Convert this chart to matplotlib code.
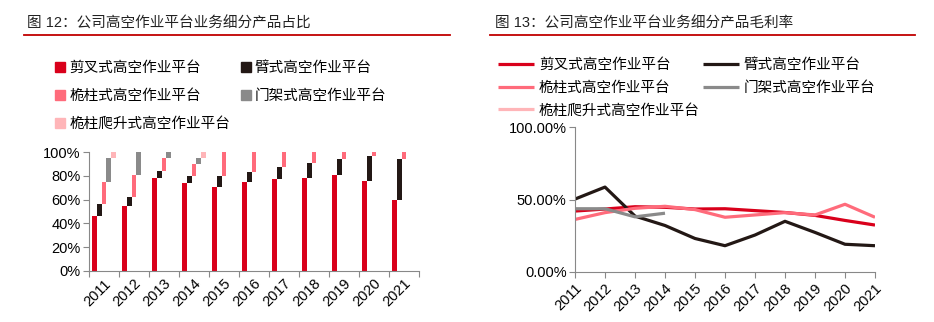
import matplotlib
matplotlib.use("Agg")
import matplotlib.pyplot as plt
import numpy as np
from matplotlib.lines import Line2D

plt.rcParams['font.family'] = ['Liberation Sans', 'Noto Sans CJK SC', 'DejaVu Sans']

years = ['2011', '2012', '2013', '2014', '2015', '2016', '2017', '2018', '2019', '2020', '2021']
series_names = ['剪叉式高空作业平台', '臂式高空作业平台', '桅柱式高空作业平台',
                '门架式高空作业平台', '桅柱爬升式高空作业平台']
colors = ['#D9001B', '#231815', '#FF6B7B', '#8A8A8A', '#FFB5B8']

# 占比 (%)
share_scissor = [46, 54.5, 78.5, 74, 70.5, 75, 77.5, 78, 81, 76, 60]
share_boom = [10, 8, 5.5, 6, 9.5, 8.5, 9.5, 13, 13.5, 20.5, 34.5]
share_mast = [18.5, 18, 11, 10, 20, 16.5, 13, 9, 5.5, 3.5, 5.5]
share_gantry = [20.5, 19.5, 5, 5, 0, 0, 0, 0, 0, 0, 0]
share_climb = [5, 0, 0, 5, 0, 0, 0, 0, 0, 0, 0]

# 毛利率 (%)
margin_scissor = [42, 43.4, 45, 44.6, 43.4, 43.6, 42.3, 41, 39, 35.5, 32.3]
margin_boom = [50.3, 58.6, 38.5, 32, 23, 18, 25.4, 34.9, 27.2, 19, 18]
margin_mast = [36.2, 40.9, 43.9, 45.3, 43, 37.7, 39.3, 40.9, 39.3, 46.7, 37.7]
margin_gantry = [43.6, 43.6, 38, 40.5]
margin_climb = []

W, H = 934, 322
fig = plt.figure(figsize=(W / 100, H / 100), dpi=100)

def fx(px):
    return px / W

def fy(py):
    return 1 - py / H

# titles
fig.text(fx(27), fy(24), '图 12：公司高空作业平台业务细分产品占比', fontsize=10.5,
         va='center', ha='left', color='#222222')
fig.text(fx(495), fy(24), '图 13：公司高空作业平台业务细分产品毛利率', fontsize=10.5,
         va='center', ha='left', color='#222222')
fig.add_artist(Line2D([fx(24), fx(450)], [fy(35), fy(35)], color='#C00000', lw=1.3))
fig.add_artist(Line2D([fx(490), fx(915)], [fy(35), fy(35)], color='#C00000', lw=1.3))

order = [0, 2, 4, 1, 3]  # row-wise legend order for 2 columns

# ---- left chart ----
ax1 = fig.add_axes([fx(89), fy(271), fx(419 - 89), (271 - 152) / H])
shares = [share_scissor, share_boom, share_mast, share_gantry, share_climb]
x = np.arange(len(years))
bw = 0.156
bottom = np.zeros(len(years))
for i, (vals, c) in enumerate(zip(shares, colors)):
    v = np.array(vals) / 100.0
    xpos = x + 0.5 - 0.39 + bw * (i + 0.5)
    ax1.bar(xpos, v, bottom=bottom, width=bw, color=c, linewidth=0)
    bottom = bottom + v
ax1.set_xlim(0, len(years))
ax1.set_ylim(0, 1)
ax1.set_yticks(np.linspace(0, 1, 6))
ax1.set_yticklabels([f'{int(round(t*100))}%' for t in np.linspace(0, 1, 6)], fontsize=10.5)
ax1.set_xticks(np.arange(len(years) + 1))
ax1.set_xticklabels([])
ax1.set_xticks(x + 0.5, minor=True)
ax1.set_xticklabels(years, minor=True, rotation=45, ha='right', rotation_mode='anchor', fontsize=10.5)
ax1.tick_params(axis='x', which='minor', length=0, pad=4)
ax1.tick_params(axis='x', which='major', length=4, color='#888888')
ax1.tick_params(axis='y', length=4, color='#888888', pad=2)
for s in ['top', 'right']:
    ax1.spines[s].set_visible(False)
for s in ['left', 'bottom']:
    ax1.spines[s].set_color('#888888')

handles1 = [Line2D([], [], marker='s', linestyle='none', markersize=6.5, color=c) for c in colors]
fig.legend([handles1[i] for i in order], [series_names[i] for i in order],
           loc='upper left', bbox_to_anchor=(fx(56), fy(61)),
           ncol=2, frameon=False, fontsize=10.5, handlelength=0.6, handletextpad=0.3,
           columnspacing=0.8, labelspacing=0.95, borderpad=0, borderaxespad=0)

# ---- right chart ----
ax2 = fig.add_axes([fx(575), fy(271.7), fx(875 - 575), (271.7 - 127.3) / H])
xi = np.arange(len(years))
margins = [margin_scissor, margin_boom, margin_mast, margin_gantry, margin_climb]
lines = []
for vals, c, n in zip(margins, colors, series_names):
    v = np.array(vals, dtype=float) / 100.0
    ln, = ax2.plot(xi[:len(v)], v, color=c, lw=2.3, label=n, solid_capstyle='butt')
    lines.append(ln)
ax2.set_xlim(0, len(years) - 1)
ax2.set_ylim(0, 1)
ax2.set_yticks([0, 0.5, 1.0])
ax2.set_yticklabels(['0.00%', '50.00%', '100.00%'], fontsize=10.5)
ax2.set_xticks(xi)
ax2.set_xticklabels(years, rotation=45, ha='right', rotation_mode='anchor', fontsize=10.5)
ax2.tick_params(axis='x', length=4, color='#888888', pad=3)
ax2.tick_params(axis='y', length=4, color='#888888', pad=2)
for s in ['top', 'right']:
    ax2.spines[s].set_visible(False)
for s in ['left', 'bottom']:
    ax2.spines[s].set_color('#888888')

fig.legend([lines[i] for i in order], [series_names[i] for i in order],
           loc='upper left', bbox_to_anchor=(fx(498), fy(58)),
           ncol=2, frameon=False, fontsize=10.5, handlelength=2.5, handletextpad=0.3,
           columnspacing=0.2, labelspacing=0.6, borderpad=0, borderaxespad=0)

fig.savefig('out.png', dpi=100)
